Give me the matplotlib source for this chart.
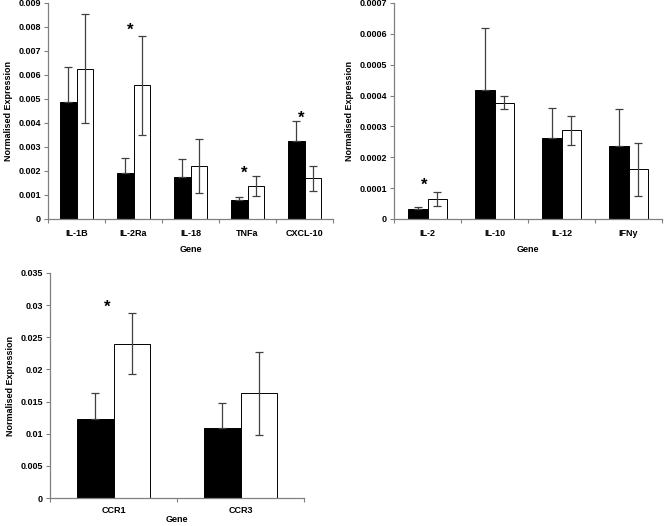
import matplotlib
matplotlib.use('Agg')
import matplotlib.pyplot as plt
import numpy as np

plt.rcParams['font.family'] = ['Liberation Sans', 'DejaVu Sans']
plt.rcParams['font.weight'] = 'bold'

# panel A : cytokines / chemokine (high)
genes_a = ['IL-1B', 'IL-2Ra', 'IL-18', 'TNFa', 'CXCL-10']
black_a = [0.00487, 0.00190, 0.00176, 0.00079, 0.00324]
black_a_err = [0.00146, 0.00064, 0.00076, 0.00014, 0.00083]
white_a = [0.00626, 0.00557, 0.00221, 0.00138, 0.00169]
white_a_err = [0.00227, 0.00205, 0.00114, 0.00043, 0.00053]
stars_a = [(1, 0.00785), (3, 0.00190), (4, 0.00420)]

# panel B : cytokines (low)
genes_b = ['IL-2', 'IL-10', 'IL-12', 'IFNy']
black_b = [0.000031, 0.000419, 0.000263, 0.000237]
black_b_err = [0.000009, 0.000200, 0.000096, 0.000119]
white_b = [0.000065, 0.000376, 0.000287, 0.000161]
white_b_err = [0.000022, 0.000021, 0.000046, 0.000085]
stars_b = [(0, 0.000110)]

# panel C : chemokine receptors
genes_c = ['CCR1', 'CCR3']
black_c = [0.01229, 0.01094]
black_c_err = [0.00404, 0.00384]
white_c = [0.02400, 0.01628]
white_c_err = [0.00477, 0.00650]
stars_c = [(0, 0.0297)]

W, H = 664, 526
fig = plt.figure(figsize=(W / 100, H / 100), dpi=100)

axcol = '#808080'
ecol = '#404040'
fs = 6.5


def panel(rect, genes, blk, blk_err, wht, wht_err, stars, ymax, ystep, gene_pad, tick_pad):
    l, t, r, b = rect
    ax = fig.add_axes([l / W, 1 - b / H, (r - l) / W, (b - t) / H])
    n = len(genes)
    x = np.arange(n)
    bw = 1 / 3.5
    ax.bar(x - bw / 2, blk, bw, color='black', edgecolor='black', linewidth=0.7,
           yerr=[np.zeros(n), blk_err], ecolor=ecol,
           error_kw=dict(elinewidth=0.9, capsize=3, capthick=0.9))
    ax.bar(x + bw / 2, wht, bw, color='white', edgecolor='black', linewidth=0.7,
           yerr=wht_err, ecolor=ecol,
           error_kw=dict(elinewidth=0.9, capsize=3, capthick=0.9))
    for i, yv in stars:
        ax.text(i - 0.05, yv, '*', ha='center', va='center', fontsize=12, fontweight='bold')
    ax.set_xlim(-0.5, n - 0.5)
    ax.set_ylim(0, ymax)
    ax.set_yticks(np.arange(0, ymax + ystep / 2, ystep))
    ax.yaxis.set_major_formatter(plt.FuncFormatter(lambda v, p: '%g' % v))
    ax.set_xticks(np.arange(n + 1) - 0.5)
    ax.set_xticklabels([])
    ax.set_xticks(x, minor=True)
    ax.set_xticklabels(genes, minor=True)
    ax.tick_params(axis='x', which='minor', length=0, pad=tick_pad, labelsize=fs)
    ax.tick_params(axis='x', which='major', length=3, color=axcol, width=0.8)
    ax.tick_params(axis='y', length=3, color=axcol, width=0.8, labelsize=fs, pad=2)
    for s in ['top', 'right']:
        ax.spines[s].set_visible(False)
    for s in ['left', 'bottom']:
        ax.spines[s].set_color(axcol)
        ax.spines[s].set_linewidth(0.9)
    ax.set_xlabel('Gene', fontsize=fs, fontweight='bold', labelpad=gene_pad)
    ax.set_ylabel('Normalised Expression', fontsize=fs, fontweight='bold', labelpad=4)
    return ax


panel((48, 3, 333, 219), genes_a, black_a, black_a_err, white_a, white_a_err,
      stars_a, 0.009, 0.001, 5, 7)
panel((394, 3, 662, 219), genes_b, black_b, black_b_err, white_b, white_b_err,
      stars_b, 0.0007, 0.0001, 5, 7)
panel((50, 273, 304, 498), genes_c, black_c, black_c_err, white_c, white_c_err,
      stars_c, 0.035, 0.005, 0, 6)

fig.savefig('out.png', dpi=100)
